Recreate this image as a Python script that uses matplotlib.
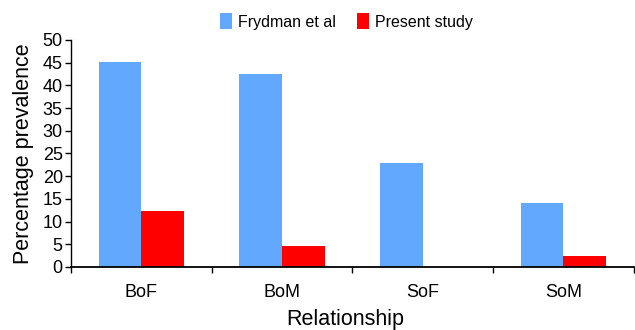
import numpy as np
import matplotlib
matplotlib.use("Agg")
from matplotlib import pyplot as plt

plt.rcParams['font.family'] = ['Liberation Sans', 'DejaVu Sans']

# data
categories = ['BoF', 'BoM', 'SoF', 'SoM']
frydman = [45.2, 42.4, 23.0, 14.0]
present = [12.4, 4.7, 0, 2.5]

fig = plt.figure(figsize=(6.35, 3.3), dpi=100)
ax = fig.add_axes([0.112, 0.191, 0.886, 0.688])

x = np.arange(len(categories))
w = 0.305
ax.bar(x - w/2, frydman, w, color='#63A8FF', label='Frydman et al')
ax.bar(x + w/2, present, w, color='#FF0000', label='Present study')

ax.set_xlim(-0.5, 3.5)
ax.set_ylim(0, 50)
ax.set_yticks(np.arange(0, 51, 5))
ax.set_xticks(np.arange(-0.5, 3.6, 1))
ax.set_xticklabels([])
ax.set_xticks(x, minor=True)
ax.set_xticklabels(categories, minor=True)
ax.tick_params(axis='x', which='minor', length=0, pad=12, labelsize=13)
ax.tick_params(axis='x', which='major', length=4, direction='out', width=1)
ax.tick_params(axis='y', length=4, direction='out', width=1, labelsize=13, pad=2)

for s in ['top', 'right']:
    ax.spines[s].set_visible(False)
ax.spines['left'].set_linewidth(1)
ax.spines['bottom'].set_linewidth(1.3)

ax.set_ylabel('Percentage prevalence', fontsize=15.5, labelpad=6)
ax.set_xlabel('Relationship', fontsize=15.5, labelpad=6)
ax.xaxis.label.set_x(0.487)

ax.legend(loc='lower center', bbox_to_anchor=(0.489, 1.0), ncol=2, frameon=False,
          fontsize=11.5, handlelength=0.8, handleheight=1.1, handletextpad=0.35,
          columnspacing=1.3, borderaxespad=0.25)

fig.savefig('out.png', dpi=100)
